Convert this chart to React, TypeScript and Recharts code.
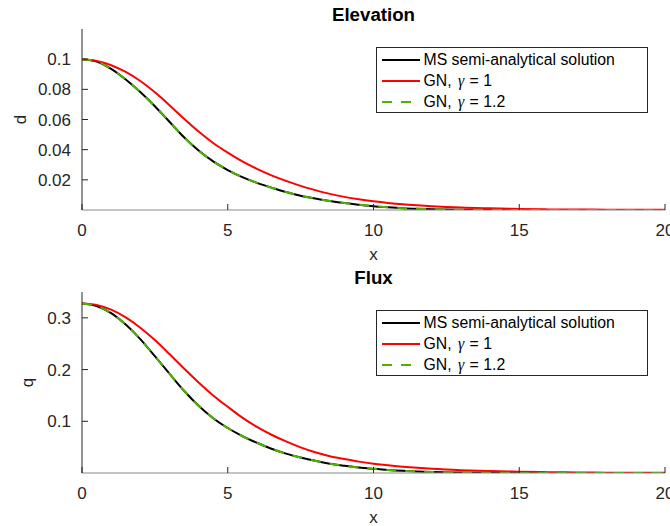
import { Legend, Line, LineChart, XAxis, YAxis } from "recharts";

// Solitary-wave comparison: elevation d(x) and flux q(x) for the MS
// semi-analytical solution vs two GN runs.

const FONT = '"Liberation Sans", Arial, Helvetica, sans-serif';
const INK = "#262626";

const xs = [
  0, 0.5, 1, 1.5, 2, 2.5, 3, 3.5, 4, 4.5, 5, 5.5, 6, 6.5, 7, 7.5, 8, 8.5, 9, 9.5, 10, 10.5, 11,
  11.5, 12, 13, 14, 15, 16, 17, 18, 19, 20,
];

// elevation
const dMS = [
  0.1, 0.0985, 0.0935, 0.0865, 0.0782, 0.0688, 0.0585, 0.0482, 0.0394, 0.0322, 0.0265, 0.0218,
  0.018, 0.0148, 0.0119, 0.0095, 0.0076, 0.006, 0.0046, 0.0035, 0.0025, 0.0018, 0.0012, 0.0008,
  0.0005, 0.0002, 0.0001, 0, 0, 0, 0, 0, 0,
];
const dGN1 = [
  0.1, 0.0988, 0.096, 0.0915, 0.0855, 0.078, 0.0695, 0.0605, 0.052, 0.0444, 0.038, 0.0322,
  0.0273, 0.023, 0.0193, 0.016, 0.0132, 0.0107, 0.0087, 0.0071, 0.0058, 0.0047, 0.0038, 0.0031,
  0.0025, 0.0016, 0.0011, 0.0007, 0.0004, 0.0003, 0.0002, 0.0001, 0.0001,
];
const dGN12 = [
  0.1, 0.0985, 0.0935, 0.0865, 0.0782, 0.0688, 0.0585, 0.0482, 0.0394, 0.0322, 0.0265, 0.0218,
  0.018, 0.0148, 0.0119, 0.0095, 0.0076, 0.006, 0.0046, 0.0035, 0.0025, 0.0018, 0.0012, 0.0008,
  0.0005, 0.0002, 0.0001, 0, 0, 0, 0, 0, 0,
];

// flux
const qMS = [
  0.328, 0.323, 0.309, 0.287, 0.259, 0.226, 0.192, 0.159, 0.13, 0.106, 0.087, 0.0715, 0.0585,
  0.047, 0.0375, 0.03, 0.0235, 0.018, 0.014, 0.0105, 0.008, 0.0058, 0.0042, 0.003, 0.0021, 0.001,
  0.0005, 0.0002, 0.0001, 0, 0, 0, 0,
];
const qGN1 = [
  0.328, 0.325, 0.316, 0.301, 0.281, 0.257, 0.23, 0.202, 0.175, 0.15, 0.128, 0.107, 0.089,
  0.074, 0.061, 0.0495, 0.04, 0.0325, 0.027, 0.022, 0.018, 0.0148, 0.0122, 0.01, 0.0082, 0.0055,
  0.0037, 0.0025, 0.0016, 0.0011, 0.0007, 0.0005, 0.0003,
];
const qGN12 = [
  0.328, 0.323, 0.309, 0.287, 0.259, 0.226, 0.192, 0.159, 0.13, 0.106, 0.087, 0.0715, 0.0585,
  0.047, 0.0375, 0.03, 0.0235, 0.018, 0.014, 0.0105, 0.008, 0.0058, 0.0042, 0.003, 0.0021, 0.001,
  0.0005, 0.0002, 0.0001, 0, 0, 0, 0,
];

const xTicks = [0, 5, 10, 15, 20];
const dTicks = [0.02, 0.04, 0.06, 0.08, 0.1];
const qTicks = [0.1, 0.2, 0.3];

const SERIES = [
  { key: "ms", pre: "MS semi-analytical solution", post: "", color: "#000000", dash: undefined },
  { key: "gn1", pre: "GN, ", post: " = 1", color: "#ff0000", dash: undefined },
  { key: "gn12", pre: "GN, ", post: " = 1.2", color: "#4db300", dash: "10 9" },
];

function buildRows(ms: number[], gn1: number[], gn12: number[]) {
  return xs.map((x, i) => ({ x, ms: ms[i], gn1: gn1[i], gn12: gn12[i] }));
}

function BottomTick(props: any) {
  const { x, y, payload } = props;
  return (
    <g>
      <line x1={x} y1={y} x2={x} y2={y - 6} stroke={INK} strokeWidth={1} />
      <text x={x} y={y + 26} textAnchor="middle" fontSize={17} fill={INK} fontFamily={FONT}>
        {payload.value}
      </text>
    </g>
  );
}

function TopTick(props: any) {
  const { x, y } = props;
  return <line x1={x} y1={y} x2={x} y2={y + 6} stroke={INK} strokeWidth={1} />;
}

function LeftTick(props: any) {
  const { x, y, payload } = props;
  return (
    <g>
      <line x1={x} y1={y} x2={x + 6} y2={y} stroke={INK} strokeWidth={1} />
      <text x={x - 11} y={y + 6} textAnchor="end" fontSize={17} fill={INK} fontFamily={FONT}>
        {String(payload.value)}
      </text>
    </g>
  );
}

function RightTick(props: any) {
  const { x, y } = props;
  return <line x1={x} y1={y} x2={x - 6} y2={y} stroke={INK} strokeWidth={1} />;
}

function LegendBox() {
  return (
    <div
      style={{
        boxSizing: "border-box",
        width: 272,
        height: 66,
        border: `1px solid ${INK}`,
        background: "#fff",
        paddingTop: 2,
        fontFamily: FONT,
        fontSize: 15.8,
        color: "#000",
      }}
    >
      {SERIES.map((s) => (
        <div key={s.key} style={{ display: "flex", alignItems: "center", height: 20.8 }}>
          <svg width={38} height={10} style={{ marginLeft: 5, marginRight: 3.5 }}>
            <line
              x1={0}
              y1={5}
              x2={38}
              y2={5}
              stroke={s.color}
              strokeWidth={2}
              strokeDasharray={s.dash}
            />
          </svg>
          <span style={{ whiteSpace: "pre" }}>
            {s.pre}
            {s.post ? (
              <span
                style={{
                  fontFamily: '"Liberation Serif", "DejaVu Serif", serif',
                  fontStyle: "italic",
                  marginLeft: 2,
                  marginRight: 1,
                }}
              >
                γ
              </span>
            ) : null}
            {s.post}
          </span>
        </div>
      ))}
    </div>
  );
}

interface PanelProps {
  title: string;
  yLabel: string;
  rows: { x: number; ms: number; gn1: number; gn12: number }[];
  yMax: number;
  yTicks: number[];
  yLabelX: number;
}

function Panel({ title, yLabel, rows, yMax, yTicks, yLabelX }: PanelProps) {
  return (
    <div style={{ position: "relative", width: 670, height: 263 }}>
      <LineChart
        width={670}
        height={263}
        data={rows}
        margin={{ top: 29, right: 5, bottom: 0, left: 0 }}
      >
        <XAxis
          dataKey="x"
          type="number"
          domain={[0, 20]}
          ticks={xTicks}
          interval={0}
          allowDataOverflow
          height={53}
          tickLine={false}
          tickSize={0}
          tickMargin={0}
          tick={(p: any) => <BottomTick {...p} />}
          axisLine={{ stroke: "#888888", strokeWidth: 1 }}
          label={{
            value: "x",
            position: "insideBottom",
            offset: 3,
            fontSize: 17,
            fill: INK,
            fontFamily: FONT,
          }}
        />
        <XAxis
          xAxisId="top"
          orientation="top"
          type="number"
          domain={[0, 20]}
          ticks={xTicks}
          interval={0}
          allowDataOverflow
          height={0}
          tickLine={false}
          tickSize={0}
          tickMargin={0}
          tick={(p: any) => <TopTick {...p} />}
          axisLine={{ stroke: INK, strokeWidth: 1 }}
        />
        <YAxis
          type="number"
          domain={[0, yMax]}
          ticks={yTicks}
          interval={0}
          allowDataOverflow
          width={82}
          tickLine={false}
          tickSize={0}
          tickMargin={0}
          tick={(p: any) => <LeftTick {...p} />}
          axisLine={{ stroke: INK, strokeWidth: 1 }}
          label={{
            content: (lp: any) => {
              const vb = lp.viewBox || {};
              const cy = (vb.y ?? 29) + (vb.height ?? 181) / 2;
              return (
                <text
                  x={yLabelX}
                  y={cy}
                  transform={`rotate(-90, ${yLabelX}, ${cy})`}
                  textAnchor="middle"
                  fontSize={17}
                  fill={INK}
                  fontFamily={FONT}
                >
                  {yLabel}
                </text>
              );
            },
          }}
        />
        <YAxis
          yAxisId="right"
          orientation="right"
          type="number"
          domain={[0, yMax]}
          ticks={yTicks}
          interval={0}
          allowDataOverflow
          width={0}
          tickLine={false}
          tickSize={0}
          tickMargin={0}
          tick={(p: any) => <RightTick {...p} />}
          axisLine={{ stroke: INK, strokeWidth: 1 }}
        />
        <Legend
          layout="vertical"
          align="center"
          verticalAlign="middle"
          content={() => <LegendBox />}
          wrapperStyle={{ left: 376, top: 47, width: 272, height: 66 }}
        />
        {SERIES.map((s) => (
          <Line
            key={s.key}
            dataKey={s.key}
            name={s.pre + s.post}
            type="monotone"
            stroke={s.color}
            strokeWidth={2}
            strokeDasharray={s.dash}
            dot={false}
            activeDot={false}
            isAnimationActive={false}
          />
        ))}
      </LineChart>
      <div
        style={{
          position: "absolute",
          left: 82,
          width: 583,
          top: 6,
          textAlign: "center",
          fontFamily: FONT,
          fontWeight: "bold",
          fontSize: 18.7,
          lineHeight: 1,
          color: "#000",
        }}
      >
        {title}
      </div>
    </div>
  );
}

export default function App() {
  const dRows = buildRows(dMS, dGN1, dGN12);
  const qRows = buildRows(qMS, qGN1, qGN12);
  return (
    <div
      style={{
        position: "absolute",
        left: 0,
        top: 0,
        width: 670,
        height: 526,
        background: "#fff",
        overflow: "hidden",
      }}
    >
      <Panel title="Elevation" yLabel="d" rows={dRows} yMax={0.12} yTicks={dTicks} yLabelX={26} />
      <Panel title="Flux" yLabel="q" rows={qRows} yMax={0.35} yTicks={qTicks} yLabelX={33} />
    </div>
  );
}
